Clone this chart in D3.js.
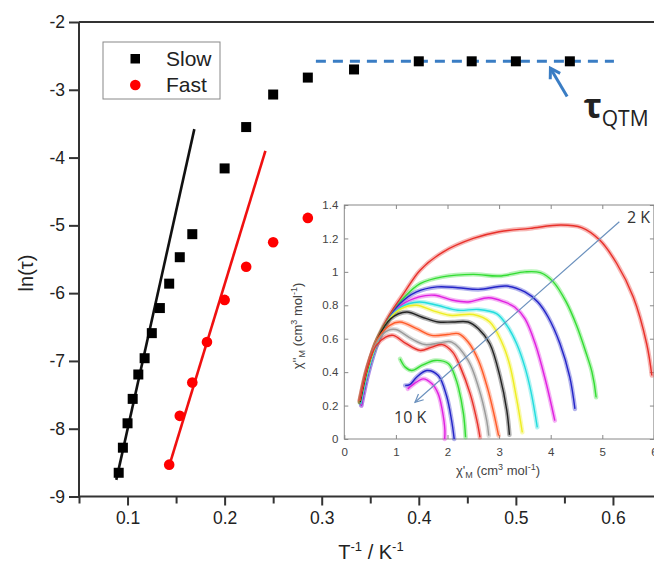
<!DOCTYPE html>
<html><head><meta charset="utf-8">
<script src="https://cdn.jsdelivr.net/npm/d3@7"></script>
<style>body{margin:0;background:#fff}svg{display:block}</style>
</head><body>
<svg id="c" width="654" height="564"></svg>
<script>
// ---------- main plot data ----------
const slowInvT  = [0.0909,0.0952,0.1,0.1053,0.1111,0.1176,0.125,0.1333,0.1429,0.1538,0.1667,0.2,0.2222,0.25,0.2857,0.3333,0.4,0.4545,0.5,0.5556];
const slowLnTau = [-8.65,-8.28,-7.92,-7.56,-7.20,-6.96,-6.59,-6.22,-5.86,-5.47,-5.13,-4.16,-3.55,-3.07,-2.82,-2.70,-2.58,-2.58,-2.58,-2.58];
const fastInvT  = [0.1429,0.1538,0.1667,0.1818,0.2,0.2222,0.25,0.2857];
const fastLnTau = [-8.53,-7.81,-7.32,-6.72,-6.10,-5.61,-5.25,-4.89];
const slowFitX = [0.0884,0.1688], slowFitY = [-8.755,-3.58];
const fastFitX = [0.1433,0.242],  fastFitY = [-8.53,-3.90];
const qtmX = [0.294,0.601], qtmY = [-2.58,-2.58];
const xMajorTicks = [0.1,0.2,0.3,0.4,0.5,0.6];
const xMinorTicks = [0.05,0.15,0.25,0.35,0.45,0.55,0.65];
const yTicks = [-9,-8,-7,-6,-5,-4,-3,-2];
const legendLabels = ["Slow","Fast"];

// ---------- inset (Cole-Cole) data: chi' , chi'' ; order 2 K (top) -> 10 K (bottom) ----------
const cc1  = [[0.30,0.22],[0.42,0.38],[0.58,0.55],[0.78,0.69],[0.95,0.78],[1.15,0.87],[1.47,1.01],[1.92,1.12],[2.5,1.20],[3.0,1.24],[3.6,1.26],[4.2,1.28],[4.6,1.265],[4.95,1.19],[5.28,1.05],[5.6,0.85],[5.86,0.57],[5.96,0.38]];
const cc2  = [[0.30,0.22],[0.45,0.42],[0.65,0.60],[0.9,0.74],[1.2,0.86],[1.47,0.93],[1.9,0.97],[2.5,0.985],[3.0,0.975],[3.5,1.0],[3.8,0.995],[4.05,0.94],[4.3,0.82],[4.5,0.68],[4.68,0.52],[4.8,0.40],[4.88,0.25]];
const cc3  = [[0.33,0.20],[0.47,0.40],[0.65,0.58],[0.85,0.71],[1.08,0.81],[1.4,0.88],[1.8,0.91],[2.2,0.905],[2.6,0.895],[3.15,0.915],[3.5,0.88],[3.75,0.82],[3.95,0.73],[4.18,0.57],[4.37,0.37],[4.47,0.18]];
const cc4  = [[0.33,0.20],[0.47,0.40],[0.65,0.58],[0.85,0.71],[1.1,0.80],[1.45,0.85],[1.75,0.86],[2.1,0.83],[2.4,0.82],[2.8,0.845],[3.1,0.82],[3.3,0.79],[3.5,0.72],[3.7,0.57],[3.9,0.35],[4.08,0.11]];
const cc5  = [[0.32,0.21],[0.47,0.41],[0.65,0.58],[0.85,0.71],[1.1,0.79],[1.45,0.82],[1.8,0.80],[2.2,0.77],[2.6,0.775],[2.95,0.75],[3.15,0.68],[3.34,0.57],[3.5,0.43],[3.62,0.28],[3.74,0.07]];
const cc6  = [[0.31,0.22],[0.46,0.42],[0.65,0.59],[0.88,0.72],[1.1,0.78],[1.4,0.80],[1.7,0.77],[2.05,0.74],[2.5,0.745],[2.82,0.70],[3.05,0.58],[3.2,0.45],[3.34,0.24],[3.45,0.04]];
const cc7  = [[0.31,0.22],[0.46,0.43],[0.65,0.60],[0.9,0.72],[1.21,0.76],[1.5,0.73],[1.82,0.70],[2.1,0.70],[2.4,0.70],[2.6,0.66],[2.82,0.57],[3.02,0.37],[3.15,0.17],[3.20,0.025]];
const cc8  = [[0.30,0.23],[0.45,0.43],[0.65,0.60],[0.88,0.68],[1.08,0.70],[1.4,0.66],[1.69,0.62],[2.0,0.625],[2.21,0.63],[2.4,0.58],[2.6,0.47],[2.78,0.30],[2.90,0.15],[2.99,0.02]];
const cc9  = [[0.30,0.23],[0.45,0.43],[0.65,0.59],[0.85,0.65],[1.0,0.655],[1.3,0.60],[1.56,0.565],[1.85,0.575],[2.08,0.58],[2.4,0.47],[2.6,0.31],[2.76,0.11],[2.80,0.02]];
const cc10 = [[0.30,0.23],[0.45,0.43],[0.62,0.56],[0.8,0.61],[0.95,0.62],[1.2,0.57],[1.47,0.53],[1.7,0.55],[1.9,0.565],[2.1,0.52],[2.25,0.43],[2.44,0.27],[2.57,0.11],[2.63,0.01]];
const cc11 = [[1.08,0.48],[1.18,0.43],[1.31,0.41],[1.5,0.44],[1.76,0.47],[2.02,0.45],[2.15,0.37],[2.21,0.31],[2.31,0.15],[2.35,0.01]];
const cc12 = [[1.18,0.32],[1.27,0.325],[1.4,0.37],[1.6,0.41],[1.82,0.38],[1.98,0.26],[2.08,0.11],[2.13,0.0]];
const cc13 = [[1.23,0.30],[1.35,0.33],[1.53,0.36],[1.7,0.33],[1.82,0.27],[1.9,0.17],[1.95,0.05],[1.945,0.0]];
const ccCurves = [cc1,cc2,cc3,cc4,cc5,cc6,cc7,cc8,cc9,cc10,cc11,cc12,cc13];
const ccColors = ['#e8302a','#33dd33','#2424c8','#e020e0','#22dddd','#eeee22','#222222','#ff5a28','#9a9a9a','#e8302a','#33dd33','#2424c8','#e020e0'];
const insetXTicks = [0,1,2,3,4,5,6];
const insetYTicks = [0,0.2,0.4,0.6,0.8,1,1.2,1.4];
const arrowFrom = [5.33,1.30], arrowTo = [1.37,0.22];

// ---------- drawing ----------
const svg = d3.select('#c');
const FONT = "'Liberation Sans', Arial, sans-serif";
const x = d3.scaleLinear().domain([0.05,0.65]).range([79,661.5]);
const y = d3.scaleLinear().domain([-9,-2]).range([496.5,22]);

// frame top
svg.append('line').attr('x1',x(0.05)).attr('x2',x(0.65)).attr('y1',y(-2)).attr('y2',y(-2))
  .attr('stroke','#333').attr('stroke-width',2);

const gx = svg.append('g').attr('transform',`translate(0,${y(-9)})`)
  .call(d3.axisBottom(x).tickValues(xMajorTicks).tickSize(9).tickPadding(6).tickFormat(d3.format('.1f')));
const gxm = svg.append('g').attr('transform',`translate(0,${y(-9)})`)
  .call(d3.axisBottom(x).tickValues(xMinorTicks).tickSize(7).tickFormat(''));
gxm.select('.domain').remove();
const gy = svg.append('g').attr('transform',`translate(${x(0.05)},0)`)
  .call(d3.axisLeft(y).tickValues(yTicks).tickSize(10).tickPadding(4).tickFormat(d=>String(d)));
[gx,gxm,gy].forEach(g=>{
  g.selectAll('path,line').attr('stroke','#333').attr('stroke-width',2);
  g.selectAll('text').attr('font-family',FONT).attr('font-size',17.5).attr('fill','#222');
});
gx.select('.domain').attr('d',`M${x(0.05)},0H${x(0.65)}`);
gy.select('.domain').attr('d',`M0,${y(-9)}V${y(-2)}`);

// axis titles
svg.append('text').attr('transform',`translate(33,273) rotate(-90)`).attr('text-anchor','middle')
  .attr('font-family',FONT).attr('font-size',20).attr('fill','#222').text('ln(τ)');
const xt = svg.append('text').attr('x',371).attr('y',559).attr('text-anchor','middle')
  .attr('font-family',FONT).attr('font-size',20).attr('fill','#222');
xt.append('tspan').text('T');
xt.append('tspan').attr('dy',-8).attr('font-size',13).text('-1');
xt.append('tspan').attr('dy',8).text(' / K');
xt.append('tspan').attr('dy',-8).attr('font-size',13).text('-1');

// fits
const line = d3.line().x(d=>x(d[0])).y(d=>y(d[1]));
svg.append('path').attr('d',line(d3.zip(slowFitX,slowFitY))).attr('stroke','#111').attr('stroke-width',2.6).attr('fill','none');
svg.append('path').attr('d',line(d3.zip(fastFitX,fastFitY))).attr('stroke','#f01010').attr('stroke-width',2.6).attr('fill','none');

// QTM dashed
svg.append('path').attr('d',line(d3.zip(qtmX,qtmY))).attr('stroke','#3a7dc4').attr('stroke-width',3)
  .attr('stroke-dasharray','10,7').attr('fill','none');

// points
svg.append('g').selectAll('rect').data(d3.zip(slowInvT,slowLnTau)).join('rect')
  .attr('x',d=>x(d[0])-5).attr('y',d=>y(d[1])-5).attr('width',10).attr('height',10).attr('fill','#000');
svg.append('g').selectAll('circle').data(d3.zip(fastInvT,fastLnTau)).join('circle')
  .attr('cx',d=>x(d[0])).attr('cy',d=>y(d[1])).attr('r',5.3).attr('fill','#f00');

// arrow to QTM line
const tip=[x(0.5356),y(-2.683)], tail=[x(0.5528),y(-3.10)];
svg.append('line').attr('x1',tail[0]).attr('y1',tail[1]).attr('x2',tip[0]).attr('y2',tip[1])
  .attr('stroke','#3a7dc4').attr('stroke-width',3);
(function(){
  const a=Math.atan2(tip[1]-tail[1],tip[0]-tail[0]), L=11, s=0.55;
  const p1=[tip[0]-L*Math.cos(a-s),tip[1]-L*Math.sin(a-s)], p2=[tip[0]-L*Math.cos(a+s),tip[1]-L*Math.sin(a+s)];
  svg.append('path').attr('d',`M${p1}L${tip}L${p2}`).attr('stroke','#3a7dc4').attr('stroke-width',3).attr('fill','none');
})();
const tq = svg.append('text').attr('x',x(0.5696)).attr('y',y(-3.42)).attr('font-family',"'Open Sans',sans-serif").attr('fill','#222');
tq.append('tspan').attr('font-size',34).attr('font-weight','bold').text('τ');
tq.append('tspan').attr('font-size',21).attr('dy',8).text('QTM');

// ---------- inset ----------
const ix = d3.scaleLinear().domain([0,6]).range([344.3,653.9]);
const iy = d3.scaleLinear().domain([0,1.4]).range([439,205]);
const IFONT = "'Liberation Sans',sans-serif";
const ins = svg.append('g');
ins.append('rect').attr('x',ix(0)).attr('y',iy(1.4)).attr('width',ix(6)-ix(0)).attr('height',iy(0)-iy(1.4))
  .attr('fill','#fff').attr('stroke','#888').attr('stroke-width',1);
const ib = ins.append('g').attr('transform',`translate(0,${iy(0)})`).call(d3.axisBottom(ix).tickValues(insetXTicks).tickSizeInner(-4).tickSizeOuter(0).tickPadding(9).tickFormat(d3.format('d')));
const it = ins.append('g').attr('transform',`translate(0,${iy(1.4)})`).call(d3.axisTop(ix).tickValues(insetXTicks).tickSizeInner(-4).tickSizeOuter(0).tickFormat(''));
const il = ins.append('g').attr('transform',`translate(${ix(0)},0)`).call(d3.axisLeft(iy).tickValues(insetYTicks).tickSizeInner(-4).tickSizeOuter(0).tickPadding(6).tickFormat(d=>String(+d.toFixed(1))));
const ir = ins.append('g').attr('transform',`translate(${ix(6)},0)`).call(d3.axisRight(iy).tickValues(insetYTicks).tickSizeInner(-4).tickSizeOuter(0).tickFormat(''));
[ib,it,il,ir].forEach(g=>{
  g.select('.domain').remove();
  g.selectAll('line').attr('stroke','#888');
  g.selectAll('text').attr('font-family',IFONT).attr('font-size',11.5).attr('fill','#444');
});
// inset axis titles
function chiTitle(sel, primes){
  sel.append('tspan').text('χ'+primes);
  sel.append('tspan').attr('font-size',9).attr('dy',3).text('M');
  sel.append('tspan').attr('dy',-3).text(' (cm');
  sel.append('tspan').attr('font-size',9).attr('dy',-5).text('3');
  sel.append('tspan').attr('dy',5).text(' mol');
  sel.append('tspan').attr('font-size',9).attr('dy',-5).text('-1');
  sel.append('tspan').attr('dy',5).text(')');
}
chiTitle(ins.append('text').attr('transform',`translate(302,326) rotate(-90)`).attr('text-anchor','middle')
  .attr('font-family',IFONT).attr('font-size',13).attr('fill','#444'), "''");
chiTitle(ins.append('text').attr('x',498).attr('y',475).attr('text-anchor','middle')
  .attr('font-family',IFONT).attr('font-size',13).attr('fill','#444'), "'");

// curves
ins.append('clipPath').attr('id','ic').append('rect').attr('x',ix(0)).attr('y',iy(1.4)).attr('width',ix(6)-ix(0)).attr('height',iy(0)-iy(1.4)+3);
const cl = d3.line().x(d=>ix(d[0])).y(d=>iy(d[1])).curve(d3.curveCatmullRom.alpha(0.5));
const cg = ins.append('g').attr('clip-path','url(#ic)');
ccCurves.forEach((c,i)=>{
  cg.append('path').attr('d',cl(c)).attr('fill','none').attr('stroke',ccColors[i]).attr('stroke-opacity',0.35).attr('stroke-width',4.5).attr('stroke-linecap','round');
});
ccCurves.forEach((c,i)=>{
  cg.append('path').attr('d',cl(c)).attr('fill','none').attr('stroke',ccColors[i]).attr('stroke-width',1.4);
});
// temperature arrow
const a0=[ix(arrowFrom[0]),iy(arrowFrom[1])], a1=[ix(arrowTo[0]),iy(arrowTo[1])];
ins.append('line').attr('x1',a0[0]).attr('y1',a0[1]).attr('x2',a1[0]).attr('y2',a1[1]).attr('stroke','#6a90bd').attr('stroke-width',1.2);
(function(){
  const a=Math.atan2(a1[1]-a0[1],a1[0]-a0[0]), L=9, s=0.45;
  const p1=[a1[0]-L*Math.cos(a-s),a1[1]-L*Math.sin(a-s)], p2=[a1[0]-L*Math.cos(a+s),a1[1]-L*Math.sin(a+s)];
  ins.append('path').attr('d',`M${p1}L${a1}L${p2}`).attr('stroke','#6a90bd').attr('stroke-width',1.2).attr('fill','none');
})();
ins.append('text').attr('x',627).attr('y',223).attr('font-family',"'Open Sans',sans-serif").attr('font-size',16).attr('fill','#333').text('2 K');
ins.append('text').attr('x',394).attr('y',423).attr('font-family',"'Open Sans',sans-serif").attr('font-size',16).attr('fill','#333').text('10 K');

// ---------- legend ----------
const lg = svg.append('g');
lg.append('rect').attr('x',103).attr('y',42).attr('width',117).attr('height',57).attr('fill','#fff').attr('stroke','#888').attr('stroke-width',1);
lg.append('rect').attr('x',130.5).attr('y',54).attr('width',9.5).attr('height',9.5).attr('fill','#000');
lg.append('circle').attr('cx',135.3).attr('cy',85).attr('r',5.3).attr('fill','#f00');
legendLabels.forEach((t,i)=>{
  lg.append('text').attr('x',166).attr('y',66+i*26).attr('font-family',FONT).attr('font-size',21).attr('fill','#222').text(t);
});
</script>
</body></html>
